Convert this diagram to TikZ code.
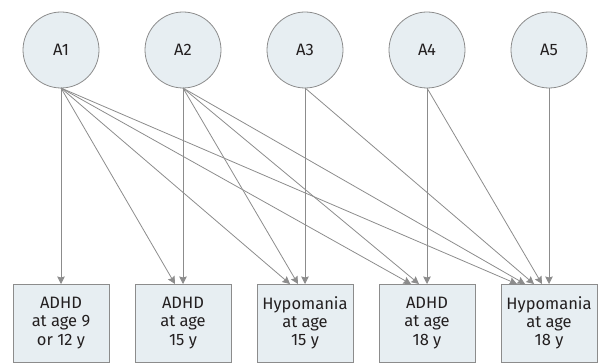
\documentclass[tikz,border=0pt]{standalone}
\usepackage{fontspec}
\setmainfont{Fira Sans}
\usetikzlibrary{positioning,arrows.meta}
\definecolor{nodefill}{HTML}{E7EEF2}
\definecolor{edgegray}{HTML}{8C8C8C}
\definecolor{labelgray}{HTML}{231F20}
\tikzstyle{abox}=[circle, draw=edgegray, fill=nodefill, line width=0.8pt,
                  minimum size=76pt, inner sep=0pt, outer sep=0pt,
                  text=labelgray, font=\fontsize{16.5}{18}\selectfont]
\tikzstyle{obox}=[rectangle, draw=edgegray, fill=nodefill, line width=0.8pt,
                  minimum width=96pt, minimum height=78pt, inner sep=0pt, outer sep=0pt,
                  align=center, text=labelgray, font=\fontsize{16.5}{18.3}\selectfont]
\tikzstyle{pline}=[-{Stealth[length=7.5pt,width=7.5pt,inset=1pt]}, draw=edgegray, line width=0.8pt]

\begin{document}
\begin{tikzpicture}[x=1pt,y=1pt,node distance=0pt]
\useasboundingbox (0,0) rectangle (601,362);

% exposures
\node (A1) [abox] at (61,312) {A1};
\node (A2) [abox,right=46pt of A1] {A2};
\node (A3) [abox,right=46pt of A2] {A3};
\node (A4) [abox,right=46pt of A3] {A4};
\node (A5) [abox,right=46pt of A4] {A5};

% outcomes
\node (ADHDa) [obox] at (61,39) {ADHD\\at age 9\\or 12 y};
\node (ADHDb) [obox,right=26pt of ADHDa] {ADHD\\at age\\15 y};
\node (HYPOb) [obox,right=26pt of ADHDb] {Hypomania\\at age\\15 y};
\node (ADHDc) [obox,right=26pt of HYPOb] {ADHD\\at age\\18 y};
\node (HYPOc) [obox,right=26pt of ADHDc] {Hypomania\\at age\\18 y};

 \draw[pline] (A1.south) -- (ADHDa.north);
 \draw[pline] (A1.south) -- ([xshift=-8pt]ADHDb.north);
 \draw[pline] (A1.south) -- ([xshift=-15pt]HYPOb.north);
 \draw[pline] (A1.south) -- ([xshift=-16pt]ADHDc.north);
 \draw[pline] (A1.south) -- ([xshift=-32pt]HYPOc.north);

 \draw[pline] (A2.south) -- (ADHDb.north);
 \draw[pline] (A2.south) -- ([xshift=-7pt]HYPOb.north);
 \draw[pline] (A2.south) -- ([xshift=-8pt]ADHDc.north);
 \draw[pline] (A2.south) -- ([xshift=-24pt]HYPOc.north);

 \draw[pline] (A3.south) -- (HYPOb.north);
 \draw[pline] (A3.south) -- ([xshift=-15pt]HYPOc.north);

 \draw[pline] (A4.south) -- (ADHDc.north);
 \draw[pline] (A4.south) -- ([xshift=-7pt]HYPOc.north);

 \draw[pline] (A5.south) -- (HYPOc.north);

\end{tikzpicture}
\end{document}
